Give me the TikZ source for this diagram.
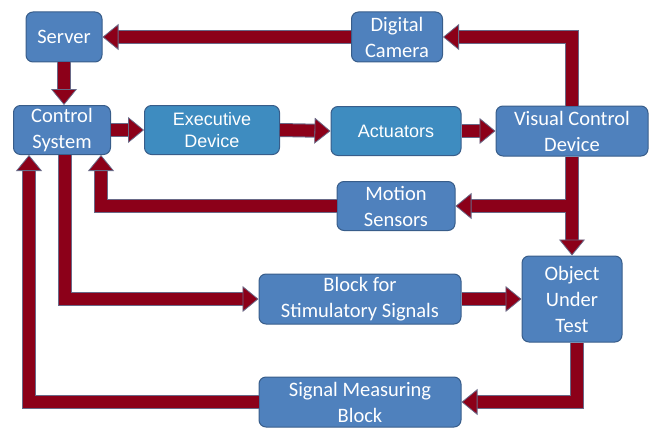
\documentclass[tikz,border=0pt]{standalone}
\usepackage{fontspec}
\newfontfamily\calfont{Carlito}
\newfontfamily\arifont{Liberation Sans}
\usetikzlibrary{arrows.meta}
\definecolor{boxfill}{RGB}{79,129,189}
\definecolor{boxline}{RGB}{56,93,138}
\definecolor{tealfill}{RGB}{62,140,192}
\definecolor{arr}{RGB}{140,0,25}
\definecolor{outl}{RGB}{105,105,135}
\tikzset{
  box/.style={draw=boxline, fill=boxfill, rounded corners=7pt, line width=1pt,
    text=white, align=center, inner sep=0pt,
    font=\calfont\fontsize{20.5}{26}\selectfont},
  tbox/.style={box, fill=tealfill, font=\arifont\fontsize{18}{22}\selectfont},
}
\newcommand\allconns{%
  \draw[conn] (vcd.north) |- (camera.east);
  \draw[conn] (camera.west) -- (server.east);
  \draw[conn] (server.south) -- (server.south |- control.north);
  \draw[conn] (control.east) -- (exec.west);
  \draw[conn] (exec.east) -- (act.west);
  \draw[conn] (act.east) -- (vcd.west);
  \draw[conn] (vcd.south) -- (out.north);
  \draw[conn] (jn) -- (motion.east);
  \draw[conn] (motion.west) -| (cin2);
  \draw[conn] (cout) |- (stim.west);
  \draw[conn] (stim.east) -- (out.west);
  \draw[conn] (oout) |- (meas.east);
  \draw[conn] (meas.west) -| (cin1);
}
\begin{document}
\begin{tikzpicture}[x=1pt,y=-1pt]
\useasboundingbox (0,0) rectangle (650,428);
\node[box, minimum width=76pt, minimum height=50pt] (server) at (64,37) {Server};
\node[box, minimum width=97pt, minimum height=49pt] (control) at (62,130) {Control\\System};
\node[tbox, minimum width=135pt, minimum height=49pt] (exec) at (212,130) {Executive\\Device};
\node[box, minimum width=91pt, minimum height=50pt] (camera) at (397,37) {Digital\\Camera};
\node[tbox, minimum width=130pt, minimum height=49pt] (act) at (396,131) {Actuators};
\node[box, minimum width=152pt, minimum height=50pt] (vcd) at (572,131) {Visual Control\\Device};
\node[box, minimum width=118pt, minimum height=49pt] (motion) at (396,206) {Motion\\Sensors};
\node[box, minimum width=100pt, minimum height=86pt] (out) at (572,299) {Object\\Under\\Test};
\node[box, minimum width=202pt, minimum height=50pt] (stim) at (360,299) {Block for\\Stimulatory Signals};
\node[box, minimum width=202pt, minimum height=50pt] (meas) at (360,402) {Signal Measuring\\Block};
\coordinate (jn) at (vcd.south |- motion.east);
\coordinate (cin2) at ([xshift=39pt]control.south);
\coordinate (cout) at ([xshift=3pt]control.south);
\coordinate (cin1) at ([xshift=-33pt]control.south);
\coordinate (oout) at ([xshift=5pt]out.south);
\begin{scope}[conn/.style={line width=14pt, draw=outl, shorten >=14pt}]
\allconns
\end{scope}
\begin{scope}[conn/.style={line width=12pt, draw=arr,
   -{Triangle[width=26pt,length=16pt,color=outl,fill=arr,line width=0.8pt]}}]
\allconns
\end{scope}
\end{tikzpicture}
\end{document}
